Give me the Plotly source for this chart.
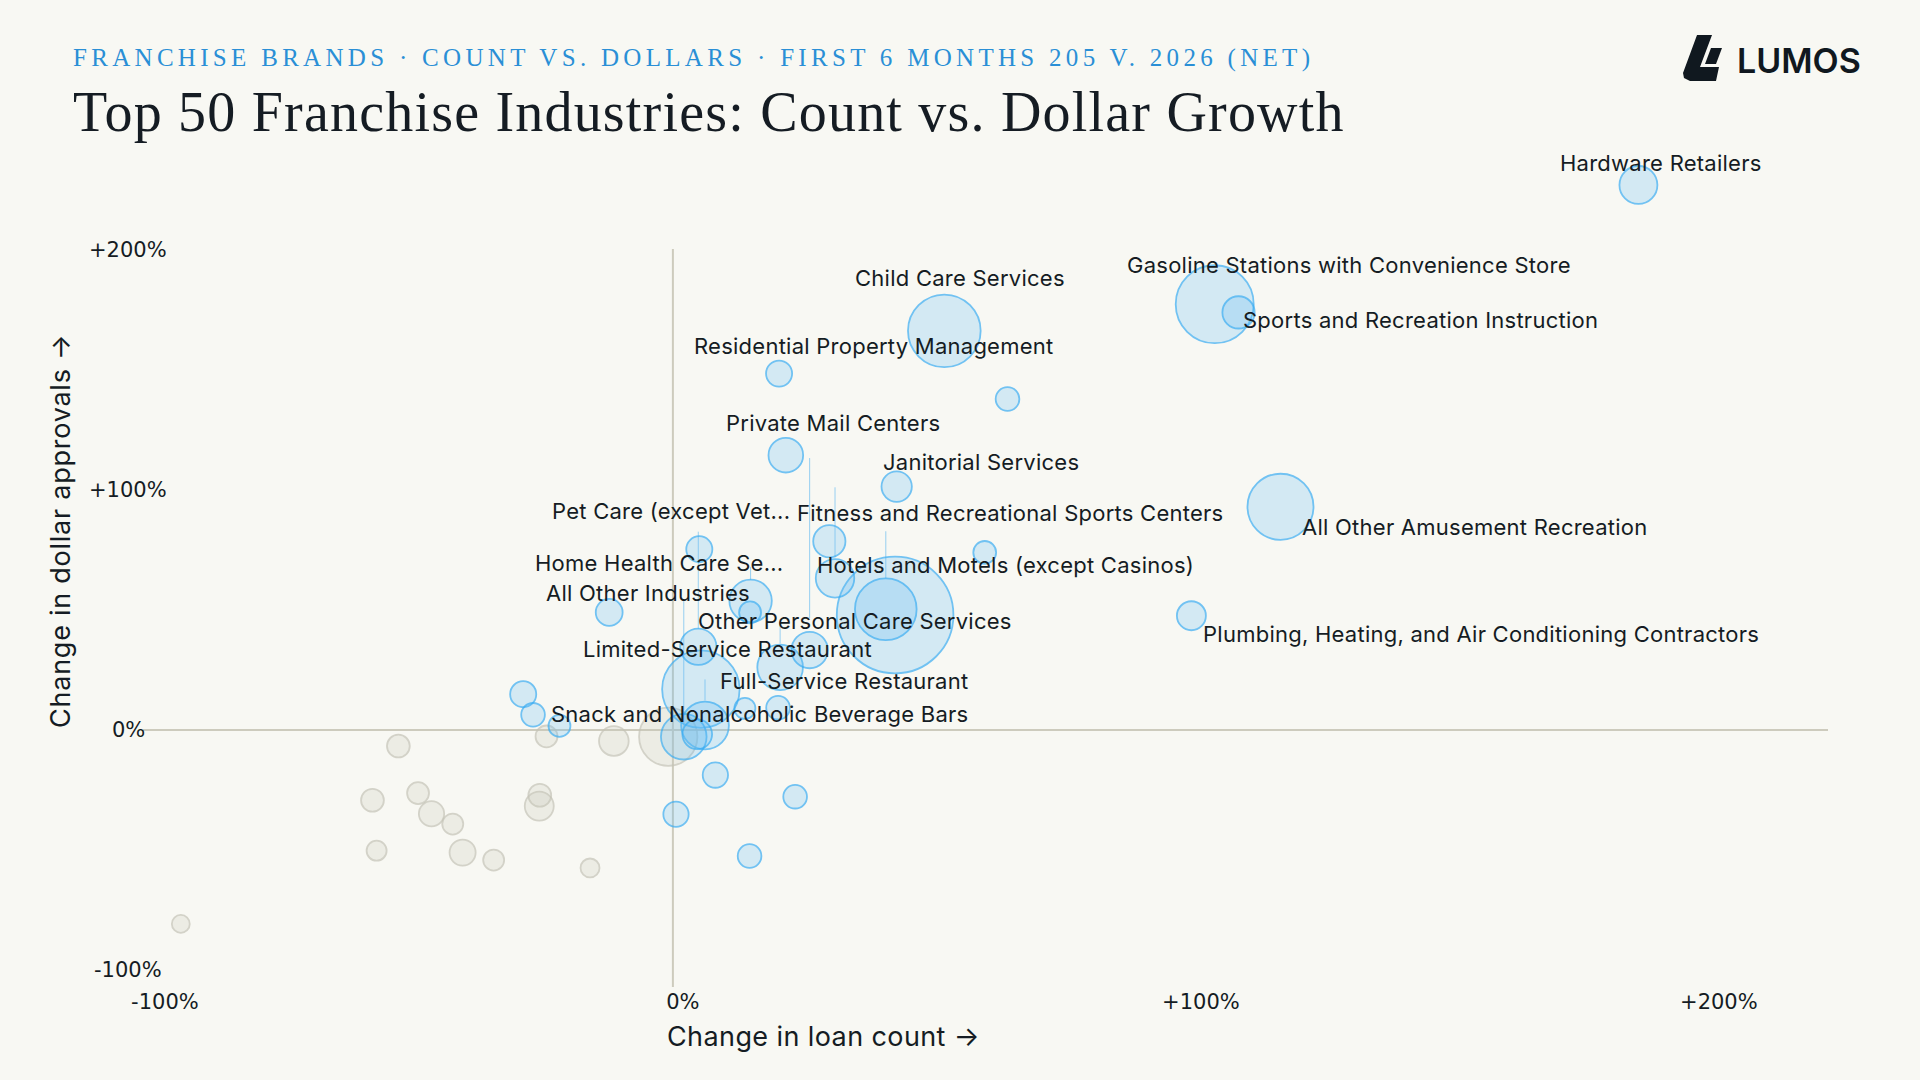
import plotly.graph_objects as go

# ---------------- data ----------------
count_change = [186.4, 104.6, 109.2, 52.4, 20.5, 64.6, 21.8, 43.2, 117.3, 30.2,
                5.1, 60.2, 31.3, 42.9, 41.1, 15.0, 14.9, -12.3, 100.1, 4.9,
                5.4, 26.4, 20.7, 20.3, 13.9, 6.2, 2.1, 4.7, -21.9, -27.0,
                -28.9, 8.2, 23.6, 0.6, 14.8,
                -0.9, -11.4, -24.4, -25.7, -25.8, -53.0, -58.0, -49.2, -46.6, -42.5,
                -57.2, -40.6, -34.6, -16.0, -95.0]
dollar_change = [227.1, 177.4, 174.0, 166.3, 148.5, 137.9, 114.5, 101.4, 93.0, 78.6,
                 75.3, 74.0, 63.2, 47.9, 50.3, 53.8, 49.0, 49.0, 47.6, 34.7,
                 17.0, 33.3, 26.1, 9.3, 9.0, 1.9, -2.8, -1.8, 1.7, 6.3,
                 14.9, -18.8, -27.8, -35.1, -52.5,
                 -2.8, -4.6, -2.7, -27.2, -31.7, -6.7, -29.3, -26.3, -34.9, -39.2,
                 -50.3, -51.1, -54.2, -57.5, -80.8]
loan_volume = [36, 152, 26, 132, 17, 14, 30, 23, 109, 26,
               17, 13, 37, 340, 95, 45, 12, 18, 21, 33,
               150, 33, 52, 14, 11, 57, 52, 22, 12, 14,
               17, 16, 14, 16, 14,
               85, 22, 12, 13, 21, 13, 13, 12, 16, 11,
               10, 17, 11, 9, 8]
labels = {
    0: "Hardware Retailers",
    1: "Gasoline Stations with Convenience Store",
    2: "Sports and Recreation Instruction",
    3: "Child Care Services",
    4: "Residential Property Management",
    6: "Private Mail Centers",
    7: "Janitorial Services",
    8: "All Other Amusement Recreation",
    9: "Fitness and Recreational Sports Centers",
    10: "Pet Care (except Vet...",
    12: "Hotels and Motels (except Casinos)",
    13: "Other Personal Care Services",
    15: "Home Health Care Se...",
    17: "All Other Industries",
    18: "Plumbing, Heating, and Air Conditioning Contractors",
    20: "Limited-Service Restaurant",
    22: "Full-Service Restaurant",
    26: "Snack and Nonalcoholic Beverage Bars",
}
x_ticks = [-100, 0, 100, 200]
x_tick_text = ["-100%", "0%", "+100%", "+200%"]
y_ticks = [200, 100, 0, -100]
y_tick_text = ["+200%", "+100%", "0%", "-100%"]

# ---------------- layout / style ----------------
W, H = 1920, 1080
ML, MR, MT, MB = 143, 92, 154, 93
PW, PH = W - ML - MR, H - MT - MB
X_RANGE = [-102.3, 223.0]
Y_RANGE = [-107.1, 240.0]
Y_GUIDE_TOP = 200.4
BG = "#f8f8f3"
INK = "#151c23"
BLUE_FILL = "rgba(100,190,245,0.35)"
BLUE_LINE = "rgb(56,172,242)"
GRAY_FILL = "rgba(200,200,185,0.35)"
GRAY_LINE = "rgb(196,195,182)"
AXIS_COLOR = "#cdcbbd"
LABEL_FONT = dict(family="Inter", size=22, color=INK)
TICK_FONT = dict(family="DejaVu Sans", size=21, color=INK)


def spaced(text, px_):
    return f"<span style='letter-spacing:{px_}px'>{text}</span>"


# label offsets in pixels (dx right, dy up, anchor)
label_pos = {
    0: (23, 22, "center"), 1: (134, 39, "center"), 2: (2, -8, "left"),
    3: (16, 53, "center"), 4: (95, 28, "center"), 6: (47, 32, "center"),
    7: (84, 25, "center"), 8: (20, -20, "left"), 9: (181, 28, "center"),
    10: (-28, 38, "center"), 12: (170, 13, "center"), 13: (-40, -6, "center"),
    15: (-92, 38, "center"), 17: (39, 19, "center"), 18: (10, -18, "left"),
    20: (27, 40, "center"), 22: (64, -14, "center"), 26: (76, 23, "center"),
}
# leader lines: (point index, start px above centre, end px above centre)
leaders = [(21, 32, 192), (12, 21, 91), (14, 31, 78), (19, 18, 115),
           (15, 21, 34), (26, 10, 137), (22, 24, 44), (25, 25, 46)]


def px(xp):
    return (xp - ML) / PW


def py(yp):
    return (H - MB - yp) / PH


fig = go.Figure()

neg = [i for i in range(len(count_change)) if count_change[i] < 0 and dollar_change[i] < 0]
pos = [i for i in range(len(count_change)) if i not in neg]

for idx, fill, line, lw in [(neg, GRAY_FILL, GRAY_LINE, 1.8), (pos, BLUE_FILL, BLUE_LINE, 1.8)]:
    idx = sorted(idx, key=lambda i: -loan_volume[i])
    fig.add_trace(go.Scatter(
        x=[count_change[i] for i in idx],
        y=[dollar_change[i] for i in idx],
        mode="markers",
        cliponaxis=False,
        hoverinfo="skip",
        marker=dict(size=[loan_volume[i] for i in idx], sizemode="area", sizeref=0.05,
                    color=fill, line=dict(color=line, width=lw)),
        showlegend=False,
    ))

annotations = []
for i, text in labels.items():
    dx, dy, anc = label_pos[i]
    annotations.append(dict(x=count_change[i], y=dollar_change[i], xref="x", yref="y",
                            text=spaced(text, 0.25), showarrow=False, xanchor=anc,
                            yanchor="middle", xshift=dx, yshift=dy, font=LABEL_FONT))

shapes = []
# vertical zero guide (only up to the +200% level)
shapes.append(dict(type="line", xref="x", yref="y", x0=0, x1=0, y0=Y_RANGE[0], y1=Y_GUIDE_TOP,
                   line=dict(color=AXIS_COLOR, width=2), layer="below"))
for i, a, b in leaders:
    shapes.append(dict(type="line", xref="x", yref="y", x0=count_change[i], x1=count_change[i],
                       ysizemode="pixel", yanchor=dollar_change[i], y0=a, y1=b,
                       line=dict(color="rgba(110,190,240,0.7)", width=1), layer="below"))

# y tick labels
for v, t in zip(y_ticks, y_tick_text):
    annotations.append(dict(x=px(128), y=v, xref="paper", yref="y", text=t, showarrow=False,
                            xanchor="center", yanchor="middle", font=TICK_FONT))

# axis titles
AX_TITLE_FONT = dict(family="Inter", size=27, color=INK)
annotations.append(dict(x=0, y=py(1036), xref="x", yref="paper", xshift=-8,
                        text=spaced("Change in loan count →", 0.4), showarrow=False,
                        xanchor="left", yanchor="middle", font=AX_TITLE_FONT))
annotations.append(dict(x=px(61), y=0, xref="paper", yref="y", textangle=-90,
                        text=spaced("Change in dollar approvals →", 0.75), showarrow=False,
                        xanchor="center", yanchor="bottom", font=AX_TITLE_FONT))

# titles
annotations.append(dict(x=px(71), y=py(58), xref="paper", yref="paper",
                        text=spaced("FRANCHISE BRANDS · COUNT VS. DOLLARS · FIRST 6 MONTHS 205 V. 2026 (NET)", 4.3),
                        showarrow=False, xanchor="left", yanchor="middle",
                        font=dict(family="Liberation Serif", size=25, color="#2a8fd6")))
annotations.append(dict(x=px(71), y=py(112), xref="paper", yref="paper",
                        text=spaced("Top 50 Franchise Industries: Count vs. Dollar Growth", 1.2),
                        showarrow=False, xanchor="left", yanchor="middle",
                        font=dict(family="Liberation Serif", size=56, color=INK)))
# logo text
annotations.append(dict(x=px(1735), y=py(61), xref="paper", yref="paper", text="LUMOS",
                        showarrow=False, xanchor="left", yanchor="middle",
                        font=dict(family="Inter", size=34, color="#10181f", weight=600)))


def path(points, close=True):
    s = "M " + " L ".join(f"{px(a):.5f},{py(b):.5f}" for a, b in points)
    return s + (" Z" if close else "")


logo_pieces = [
    [(1697, 35), (1712, 35), (1700, 67), (1719, 67), (1716, 81), (1690, 81), (1684, 78), (1683, 73)],
    [(1711, 48), (1722, 48), (1716, 64), (1705, 64)],
]
for pts in logo_pieces:
    shapes.append(dict(type="path", xref="paper", yref="paper", path=path(pts),
                       fillcolor="#10181f", line=dict(width=0), layer="above"))

fig.update_layout(
    width=W, height=H, autosize=False,
    margin=dict(l=ML, r=MR, t=MT, b=MB),
    paper_bgcolor=BG, plot_bgcolor=BG,
    annotations=annotations, shapes=shapes,
    xaxis=dict(range=X_RANGE, showgrid=False, zeroline=False,
               showline=False, tickvals=x_ticks, ticktext=x_tick_text,
               tickfont=TICK_FONT, ticks="", ticklabelshift=10, fixedrange=True),
    yaxis=dict(range=Y_RANGE, showgrid=False, zeroline=True, zerolinecolor=AXIS_COLOR,
               zerolinewidth=2, showline=False, showticklabels=False, ticks="", fixedrange=True),
)

fig.write_html("out.html")
